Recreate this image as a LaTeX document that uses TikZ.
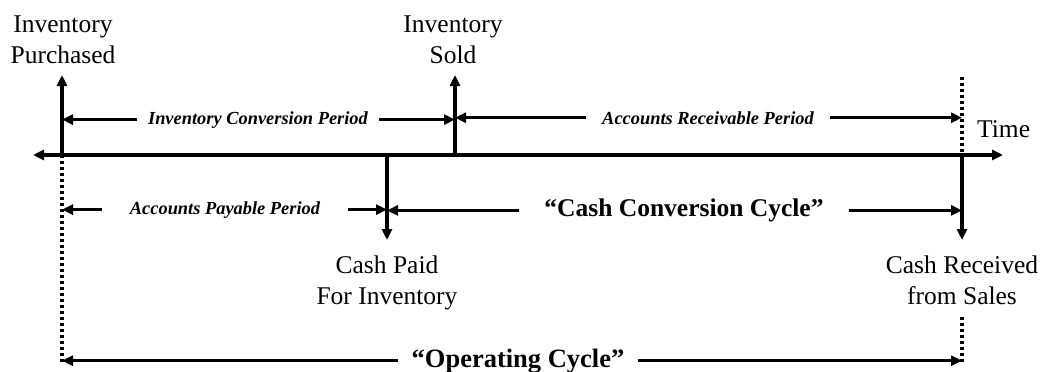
\documentclass[tikz,border=0pt]{standalone}
\usepackage{fontspec}
\setmainfont{Liberation Serif}
\usetikzlibrary{arrows.meta}
\begin{document}
\begin{tikzpicture}[x=1pt,y=-1pt,
  axis/.style={line width=3.2pt},
  tipto/.style={axis,-{Triangle[length=11pt,width=10pt]}},
  both/.style={axis,{Triangle[length=11pt,width=10pt]}-{Triangle[length=11pt,width=10pt]}},
  dots/.style={line width=3.4pt,dash pattern=on 3.4pt off 2.6pt},
  event/.style={font=\fontsize{25.5}{31}\selectfont,align=center,inner sep=0pt,anchor=base},
  period/.style={font=\fontsize{18.4}{22}\selectfont\bfseries\itshape,inner ysep=0pt,anchor=base},
  cycle/.style={font=\fontsize{25.5}{31}\selectfont\bfseries,inner ysep=0pt,anchor=base}]
\useasboundingbox (0,0) rectangle (1044,372);
% event points on the time line
\coordinate (L) at (33,155);
\coordinate (R) at (1003,155);
\coordinate (IP) at (62,155);
\coordinate (IS) at (455,155);
\coordinate (CP) at (387,155);
\coordinate (CR) at (962,155);
\coordinate (IPtop) at (62,75);
\coordinate (IStop) at (455,75);
\coordinate (CPbot) at (387,240);
\coordinate (CRbot) at (962,240);
\coordinate (CRdtop) at (962,77);
\coordinate (CRdlow) at (962,317);
\coordinate (IPdlow) at (62,362);
\coordinate (CRdend) at (962,362);
% texts (base = baseline of the last line)
\node[event] (tip) at (63,63) {Inventory\\Purchased};
\node[event] (tis) at (453,63) {Inventory\\Sold};
\node[event,anchor=base west] (time) at (977,137) {Time};
\node[event] (tcp) at (387,304) {Cash Paid\\For Inventory};
\node[event] (tcr) at (962,304) {Cash Received\\from Sales};
\node[period,inner xsep=11pt] (icp) at (258,124) {Inventory Conversion Period};
\node[period,inner xsep=16pt] (arp) at (708,124) {Accounts Receivable Period};
\node[period,inner xsep=28pt] (app) at (225,214) {Accounts Payable Period};
\node[cycle,inner xsep=25pt] (ccc) at (684,216.5) {“Cash Conversion Cycle”};
\node[cycle,font=\fontsize{26.5}{31}\selectfont\bfseries,inner xsep=13pt] (opc) at (518,367) {“Operating Cycle”};
% dotted guides
\draw[dots] (CRdtop) -- (CR);
\draw[dots] (CRdlow) -- (CRdend);
\draw[dots] (IP) -- (IPdlow);
% time line and event arrows
\draw[both] (L) -- (R);
\draw[tipto] (IP) -- (IPtop);
\draw[tipto] (IS) -- (IStop);
\draw[tipto] (CP) -- (CPbot);
\draw[tipto] (CR) -- (CRbot);
% period arrows
\draw[tipto] (icp.west) -- (icp.west -| IP);
\draw[tipto] (icp.east) -- (icp.east -| IS);
\draw[tipto] (arp.west) -- (arp.west -| IS);
\draw[tipto] (arp.east) -- (arp.east -| CR);
\draw[tipto] (app.west) -- (app.west -| IP);
\draw[tipto] (app.east) -- (app.east -| CP);
\draw[tipto] (ccc.west) -- (ccc.west -| CP);
\draw[tipto] (ccc.east) -- (ccc.east -| CR);
\draw[tipto] (opc.west) -- (opc.west -| IP);
\draw[tipto] (opc.east) -- (opc.east -| CR);
\end{tikzpicture}
\end{document}
